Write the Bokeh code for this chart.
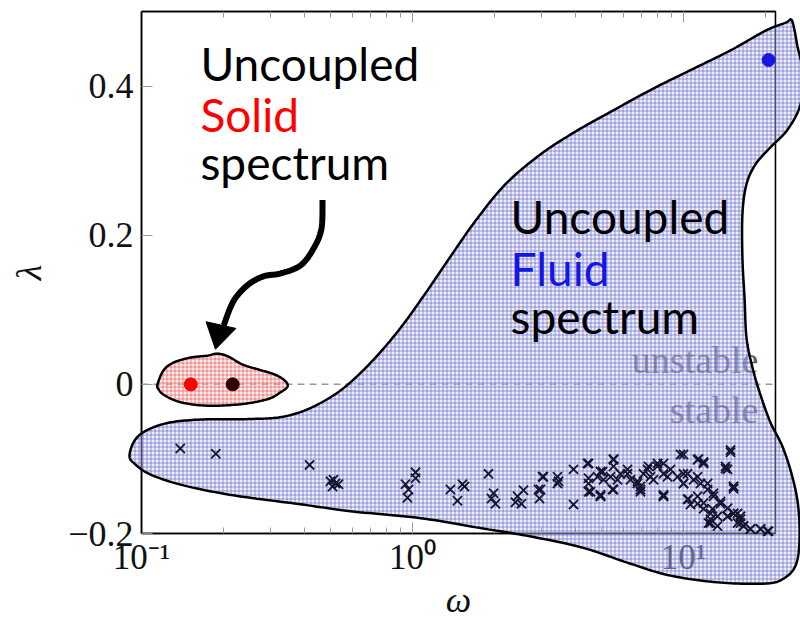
import numpy as np
from bokeh.plotting import figure
from bokeh.models import (Range1d, LogAxis, LogTicker, FixedTicker,
                          CustomJSTickFormatter, Span, Label, BoxAnnotation)
from bokeh.embed import file_html
from bokeh.resources import INLINE

# axis limits
omega_min, omega_max = 0.1, 21.85
lam_min, lam_max = -0.2, 0.5
y_ticks = [-0.2, 0.0, 0.2, 0.4]

# uncoupled solid eigenvalues (on the neutral line)
solid_omega = [0.152, 0.217]
solid_lambda = [0.0, 0.0]
solid_colors = ["#ff0000", "#2b0000"]

# leading uncoupled fluid eigenvalue
fluid_omega = [20.6]
fluid_lambda = [0.435]

# coupled spectrum
coupled_omega = [
    0.139, 0.188, 0.417, 0.498, 0.520, 0.533, 0.507, 0.511,
    0.942, 0.967, 0.958, 1.026, 1.026, 1.380, 1.529, 1.556, 1.465,
    1.907, 1.991, 2.024, 1.957, 2.441, 2.524, 2.568, 2.399,
    3.043, 2.967, 2.942, 3.458, 3.927, 4.537, 4.941, 4.461, 5.379,
    6.761, 6.939, 8.436, 10.0, 10.43, 11.27, 11.86, 12.58, 13.35, 14.54,
    15.30, 15.83, 16.23, 16.65, 17.67, 19.24, 20.42, 12.58,
    3.018, 2.917, 3.428, 3.428, 3.927, 4.461, 4.461, 4.461, 4.941, 5.026,
    5.517, 5.517, 5.470, 5.069, 5.855, 6.215, 6.375, 6.761, 6.939, 7.428,
    7.555, 7.118, 8.017, 5.709, 4.817,
    10.0, 11.36, 11.86, 14.91, 14.29, 14.54, 15.30, 8.436, 8.017, 8.436,
    8.954, 9.506, 10.0, 10.35, 10.89, 11.56, 12.27, 12.90, 13.70, 10.61,
    14.54, 15.30, 16.23, 12.37, 16.65, 17.67, 19.24, 20.60, 13.35, 11.86,
    7.750, 11.27, 12.79, 14.54, 15.83,
    4.424, 4.941, 5.517, 4.941, 5.517, 6.215, 6.939, 7.366, 8.436, 8.729,
    8.436, 9.75, 10.0, 11.27, 11.86, 11.27, 14.91, 14.29, 15.30, 10.35,
    12.27, 12.90, 13.70, 15.30, 12.58, 16.23,
]
coupled_lambda = [
    -0.086, -0.093, -0.108, -0.130, -0.133, -0.134, -0.137, -0.128,
    -0.134, -0.141, -0.152, -0.118, -0.126, -0.141, -0.134, -0.137, -0.156,
    -0.120, -0.146, -0.160, -0.153, -0.150, -0.160, -0.142, -0.158,
    -0.124, -0.141, -0.153, -0.130, -0.161, -0.144, -0.148, -0.133, -0.124,
    -0.130, -0.137, -0.148, -0.133, -0.154, -0.160, -0.167, -0.181, -0.190, -0.177,
    -0.140, -0.173, -0.181, -0.190, -0.194, -0.194, -0.197, -0.186,
    -0.124, -0.141, -0.124, -0.133, -0.114, -0.106, -0.126, -0.144, -0.150, -0.117,
    -0.100, -0.110, -0.141, -0.128, -0.120, -0.114, -0.128, -0.133, -0.144, -0.110,
    -0.124, -0.120, -0.106, -0.128, -0.124,
    -0.094, -0.100, -0.106, -0.088, -0.110, -0.114, -0.137, -0.150, -0.110, -0.120,
    -0.114, -0.124, -0.133, -0.120, -0.128, -0.133, -0.141, -0.150, -0.157, -0.161,
    -0.166, -0.173, -0.177, -0.186, -0.190, -0.194, -0.194, -0.197, -0.177, -0.159,
    -0.128, -0.150, -0.167, -0.177, -0.186,
    -0.106, -0.117, -0.101, -0.150, -0.141, -0.120, -0.141, -0.114, -0.106, -0.124,
    -0.150, -0.094, -0.120, -0.101, -0.104, -0.124, -0.091, -0.113, -0.137, -0.154,
    -0.133, -0.146, -0.160, -0.173, -0.173, -0.186,
]

# outline of the fluid spectrum region (control points, clockwise)
fluid_region_omega = [
    0.0903, 0.0942, 0.1035, 0.1248, 0.1651, 0.2524, 0.326, 0.403, 0.498, 0.590,
    0.730, 0.903, 1.117, 1.381, 1.708, 2.203, 2.965, 3.99, 5.38, 7.55,
    10.6, 14.9, 20.1, 23.8, 25.0, 25.7, 26.3, 27.7, 27.0, 24.2,
    20.9, 18.44, 17.08, 16.5, 16.5, 16.8, 17.08, 17.97, 19.2, 20.9,
    23.2, 25.2, 26.5, 26.8, 25.9, 23.4, 20.1, 13.7, 8.96, 6.37,
    4.27, 2.796, 1.782, 1.070, 0.590, 0.386, 0.2185, 0.1429, 0.1079, 0.0942,
]
fluid_region_lambda = [
    -0.0957, -0.0757, -0.0625, -0.0518, -0.0472, -0.0465, -0.0439, -0.0346, -0.0173, 0.0027,
    0.0359, 0.0757, 0.1223, 0.1714, 0.2193, 0.2684, 0.3083, 0.3389, 0.3654, 0.3947,
    0.4213, 0.4478, 0.4744, 0.485, 0.489, 0.4744, 0.4545, 0.4146, 0.3748, 0.3415,
    0.3176, 0.295, 0.2684, 0.2286, 0.1688, 0.1156, 0.0625, 0.0226, -0.0133, -0.0505,
    -0.0837, -0.1236, -0.1635, -0.21, -0.2432, -0.2605, -0.2671, -0.2658, -0.2565, -0.2405,
    -0.2193, -0.2047, -0.1927, -0.1794, -0.1701, -0.1608, -0.1488, -0.1355, -0.1209, -0.1063,
]

# outline of the solid spectrum region
solid_region_omega = [
    0.1146, 0.1205, 0.1312, 0.1517, 0.1751, 0.1907, 0.2094, 0.236, 0.2704, 0.3097,
    0.3373, 0.346, 0.326, 0.2917, 0.2317, 0.1751, 0.1393, 0.1216, 0.1156,
]
solid_region_lambda = [
    0.0, 0.0186, 0.0292, 0.0359, 0.0385, 0.0412, 0.0372, 0.0266, 0.0199, 0.0133,
    0.0053, -0.0027, -0.0106, -0.0199, -0.0266, -0.0286, -0.0239, -0.0146, -0.0066,
]

# curved pointer from the solid label to the solid region
arrow_omega = [0.4656, 0.4613, 0.4313, 0.3863, 0.326, 0.2818, 0.246, 0.2185, 0.2010]
arrow_lambda = [0.2472, 0.2086, 0.1821, 0.1595, 0.1488, 0.1448, 0.1329, 0.1116, 0.0790]
arrow_head_omega = [0.1730, 0.2230, 0.1875]
arrow_head_lambda = [0.0840, 0.0750, 0.0470]

# pixels per unit lambda relative to pixels per decade of omega
FRAME_W, FRAME_H = 634, 527
ASPECT = (FRAME_H / (lam_max - lam_min)) / (FRAME_W / np.log10(omega_max / omega_min))


def _catmull(P, closed, n=14):
    N = len(P)
    t = np.linspace(0, 1, n, endpoint=False)
    pts = []
    segs = range(N) if closed else range(N - 1)
    for i in segs:
        if closed:
            p0, p1, p2, p3 = P[i - 1], P[i], P[(i + 1) % N], P[(i + 2) % N]
        else:
            p0 = P[max(i - 1, 0)]
            p1, p2 = P[i], P[i + 1]
            p3 = P[min(i + 2, N - 1)]
        for s in t:
            s2, s3 = s * s, s * s * s
            pts.append(0.5 * (2 * p1 + (p2 - p0) * s
                              + (2 * p0 - 5 * p1 + 4 * p2 - p3) * s2
                              + (3 * p1 - p0 - 3 * p2 + p3) * s3))
    if not closed:
        pts.append(P[-1])
    return np.array(pts)


def smooth(om, lam, closed=True):
    P = np.column_stack([np.log10(om), np.asarray(lam) * ASPECT])
    Q = _catmull(P, closed)
    return 10 ** Q[:, 0], Q[:, 1] / ASPECT


SERIF = "Liberation Serif"
SANS = "Lato"

p = figure(width=800, height=622, x_axis_type="log",
           x_range=Range1d(omega_min, omega_max), y_range=Range1d(lam_min, lam_max),
           output_backend="svg", toolbar_location=None,
           min_border_left=141, min_border_right=25, min_border_top=11, min_border_bottom=84)
p.grid.visible = False
p.outline_line_color = "black"
p.outline_line_width = 1.5
p.background_fill_color = "white"
p.border_fill_color = "white"

# bottom axis
xa = p.xaxis[0]
xa.ticker = LogTicker(num_minor_ticks=10)
xa.formatter = CustomJSTickFormatter(code="""
const e = Math.round(Math.log10(tick));
const sup = {"-2": "\u207b\u00b2", "-1": "\u207b\u00b9", "0": "\u2070", "1": "\u00b9", "2": "\u00b2"};
return "10" + (sup[String(e)] || "");
""")
xa.axis_label = "ω"
xa.axis_label_text_font = SERIF
xa.axis_label_text_font_style = "italic"
xa.axis_label_text_font_size = "36px"
xa.axis_label_standoff = 0
xa.major_label_text_font = SERIF
xa.major_label_text_font_size = "35px"
xa.major_label_standoff = 4

# left axis
ya = p.yaxis[0]
ya.ticker = FixedTicker(ticks=y_ticks)
ya.formatter = CustomJSTickFormatter(code="""
if (Math.abs(tick) < 1e-9) return "0";
return (tick < 0 ? "\u2212" : "") + Math.abs(tick).toFixed(1);
""")
ya.axis_label = "λ"
ya.axis_label_text_font = SERIF
ya.axis_label_text_font_style = "italic"
ya.axis_label_text_font_size = "36px"
ya.axis_label_standoff = 16
ya.major_label_text_font = SERIF
ya.major_label_text_font_size = "36px"
ya.major_label_standoff = 8
ya.minor_tick_line_color = None

for ax in (xa, ya):
    ax.axis_line_color = "black"
    ax.axis_line_width = 1.5
    ax.major_tick_in = 11
    ax.major_tick_out = 0
    ax.minor_tick_in = 6
    ax.minor_tick_out = 0
    ax.major_tick_line_color = "#9a9a9a"
    ax.major_label_text_color = "#111111"
    ax.axis_label_text_color = "#111111"
xa.minor_tick_line_color = "#9a9a9a"

# ticks along the top edge (labels hidden)
top = LogAxis(ticker=LogTicker(num_minor_ticks=10), major_label_text_font_size="6px",
              major_label_text_color=None, major_label_standoff=0,
              axis_line_color="black", axis_line_width=1.5,
              major_tick_in=11, major_tick_out=0, minor_tick_in=6, minor_tick_out=0,
              major_tick_line_color="#9a9a9a", minor_tick_line_color="#9a9a9a")
p.add_layout(top, "above")

# neutral stability line
p.add_layout(Span(location=0, dimension="width", line_color="#9a9a9a",
                  line_dash="7 5", line_width=1.5))

# stability labels (beneath the shading)
for txt, lam in (("unstable", 0.033), ("stable", -0.035)):
    p.add_layout(Label(x=18.9, y=lam, text=txt, text_font=SERIF, text_font_size="38px",
                       text_color="#5e5e5e", text_align="right", text_baseline="middle"))

# shaded spectrum regions
fx, fy = smooth(fluid_region_omega, fluid_region_lambda)
p.patch(fx, fy, fill_color="#dcdcf4", fill_alpha=0.45,
        hatch_pattern="+", hatch_scale=4, hatch_weight=1, hatch_color="#4a4fc0", hatch_alpha=0.55,
        line_color="black", line_width=2.5, level="overlay")
sx, sy = smooth(solid_region_omega, solid_region_lambda)
p.patch(sx, sy, fill_color="#fadada", fill_alpha=0.45,
        hatch_pattern="+", hatch_scale=4, hatch_weight=1, hatch_color="#e03a3a", hatch_alpha=0.55,
        line_color="black", line_width=2.5, level="overlay")

# plot frame on top of the shading
p.add_layout(BoxAnnotation(left=omega_min, right=omega_max, bottom=lam_min, top=lam_max,
                           fill_alpha=0, line_color="black", line_width=1.5, level="overlay"))

# coupled eigenvalues
p.scatter(coupled_omega, coupled_lambda, marker="x", size=13, line_width=1.8,
          line_color="#15152e", level="overlay")

# uncoupled eigenvalues
p.scatter(solid_omega, solid_lambda, size=13, fill_color=solid_colors,
          line_color=solid_colors, level="overlay")
p.scatter(fluid_omega, fluid_lambda, size=13, fill_color="#1515e6",
          line_color="#1515e6", level="overlay")

# pointer
ax_, ay_ = smooth(arrow_omega, arrow_lambda, closed=False)
p.line(ax_, ay_, line_color="black", line_width=6, level="overlay")
p.patch(arrow_head_omega, arrow_head_lambda, fill_color="black", line_color="black",
        line_width=1, level="overlay")

# spectrum captions
captions = [
    (0.165, 0.4306, "Uncoupled", "black"),
    (0.165, 0.3615, "Solid", "#ff0000"),
    (0.165, 0.2977, "spectrum", "black"),
    (2.30, 0.2247, "Uncoupled", "black"),
    (2.30, 0.1555, "Fluid", "#1515e6"),
    (2.30, 0.0904, "spectrum", "black"),
]
for x, y, txt, col in captions:
    p.add_layout(Label(x=x, y=y, text=txt, text_font=SANS, text_font_size="46px",
                       text_color=col, text_baseline="alphabetic", level="overlay"))

open("out.html", "w").write(file_html(p, INLINE))
